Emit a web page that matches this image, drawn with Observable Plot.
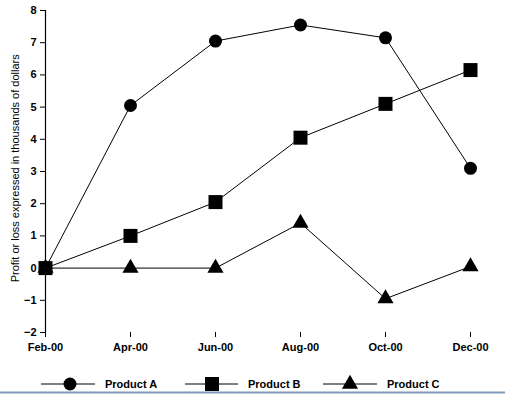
<!DOCTYPE html>
<html><head><meta charset="utf-8">
<script src="https://cdn.jsdelivr.net/npm/d3@7"></script>
<script src="https://cdn.jsdelivr.net/npm/@observablehq/plot@0.6"></script>
<style>
body{margin:0;background:#fff;font-family:"Liberation Sans",Arial,sans-serif;}
#wrap{width:530px;position:relative;}
</style></head>
<body><div id="wrap"></div>
<script>
const months = ["Feb-00","Apr-00","Jun-00","Aug-00","Oct-00","Dec-00"];
const productA = [0, 5.05, 7.05, 7.55, 7.15, 3.1];
const productB = [0, 1.0, 2.05, 4.05, 5.1, 6.15];
const productC = [0, 0, 0, 1.4, -0.95, 0.05];
const yTicks = [-2,-1,0,1,2,3,4,5,6,7,8];
const seriesNames = ["Product A","Product B","Product C"];

const rows = (vals, name) => months.map((m,i)=>({month:m, value:vals[i], series:name}));
const A = rows(productA, seriesNames[0]);
const B = rows(productB, seriesNames[1]);
const C = rows(productC, seriesNames[2]);

const plot = Plot.plot({
  width: 530, height: 365,
  marginLeft: 45, marginRight: 60, marginTop: 10, marginBottom: 33,
  style: {fontFamily: '"Liberation Sans", Arial, sans-serif', fontSize: "11px", color: "#000", background: "#fff"},
  x: {type: "point", domain: months, padding: 0, label: null},
  y: {domain: [-2, 8], label: null},
  marks: [
    Plot.ruleX([months[0]], {y1: -2, y2: 8, stroke: "#000", strokeWidth: 1.2}),
    Plot.ruleY([-2], {x1: months[0], x2: months[months.length-1], stroke: "#000", strokeWidth: 1.2}),
    Plot.axisY(yTicks, {tickSize: 5, tickPadding: 4, fontWeight: "bold", fontSize: 11, stroke: "#000"}),
    Plot.axisX(months, {tickSize: 5, tickPadding: 6, fontWeight: "bold", fontSize: 11, stroke: "#000"}),
    Plot.text(["Profit or loss expressed in thousands of dollars"], {frameAnchor: "left", dx: -30, rotate: -90, textAnchor: "middle", fontSize: 11, y: 3.1}),
    Plot.line(A, {x: "month", y: "value", stroke: "#000", strokeWidth: 1}),
    Plot.line(B, {x: "month", y: "value", stroke: "#000", strokeWidth: 1}),
    Plot.line(C, {x: "month", y: "value", stroke: "#000", strokeWidth: 1}),
    Plot.dot(A, {x: "month", y: "value", symbol: "circle", r: 6.5, fill: "#000"}),
    Plot.dot(B, {x: "month", y: "value", symbol: "square", r: 7.9, fill: "#000"}),
    Plot.dot(C, {x: "month", y: "value", symbol: "triangle", r: 6, fill: "#000"})
  ]
});
document.getElementById("wrap").appendChild(plot);

// Legend
const lg = d3.select("#wrap").append("svg").attr("width", 530).attr("height", 32).style("display","block");
const symbols = [d3.symbolCircle, d3.symbolSquare, d3.symbolTriangle];
const sizes = [Math.PI*6.5*6.5, Math.PI*7.9*7.9, Math.PI*6*6];
const legX = [{x1:41,cx:70,x2:95,tx:105},{x1:185,cx:212,x2:238,tx:248},{x1:323,cx:350,x2:377,tx:387}];
const cy = 19;
seriesNames.forEach((name,i)=>{
  const p = legX[i];
  lg.append("line").attr("x1",p.x1).attr("x2",p.x2).attr("y1",cy).attr("y2",cy).attr("stroke","#000").attr("stroke-width",1);
  lg.append("path").attr("d", d3.symbol(symbols[i], sizes[i])()).attr("transform",`translate(${p.cx},${cy})`).attr("fill","#000");
  lg.append("text").attr("x",p.tx).attr("y",cy+4).attr("font-size",11).attr("font-weight","bold").attr("font-family",'"Liberation Sans", Arial, sans-serif').text(name);
});
lg.append("line").attr("x1",0).attr("x2",505).attr("y1",27.5).attr("y2",27.5).attr("stroke","#7f9bb8").attr("stroke-width",2);
</script></body></html>
